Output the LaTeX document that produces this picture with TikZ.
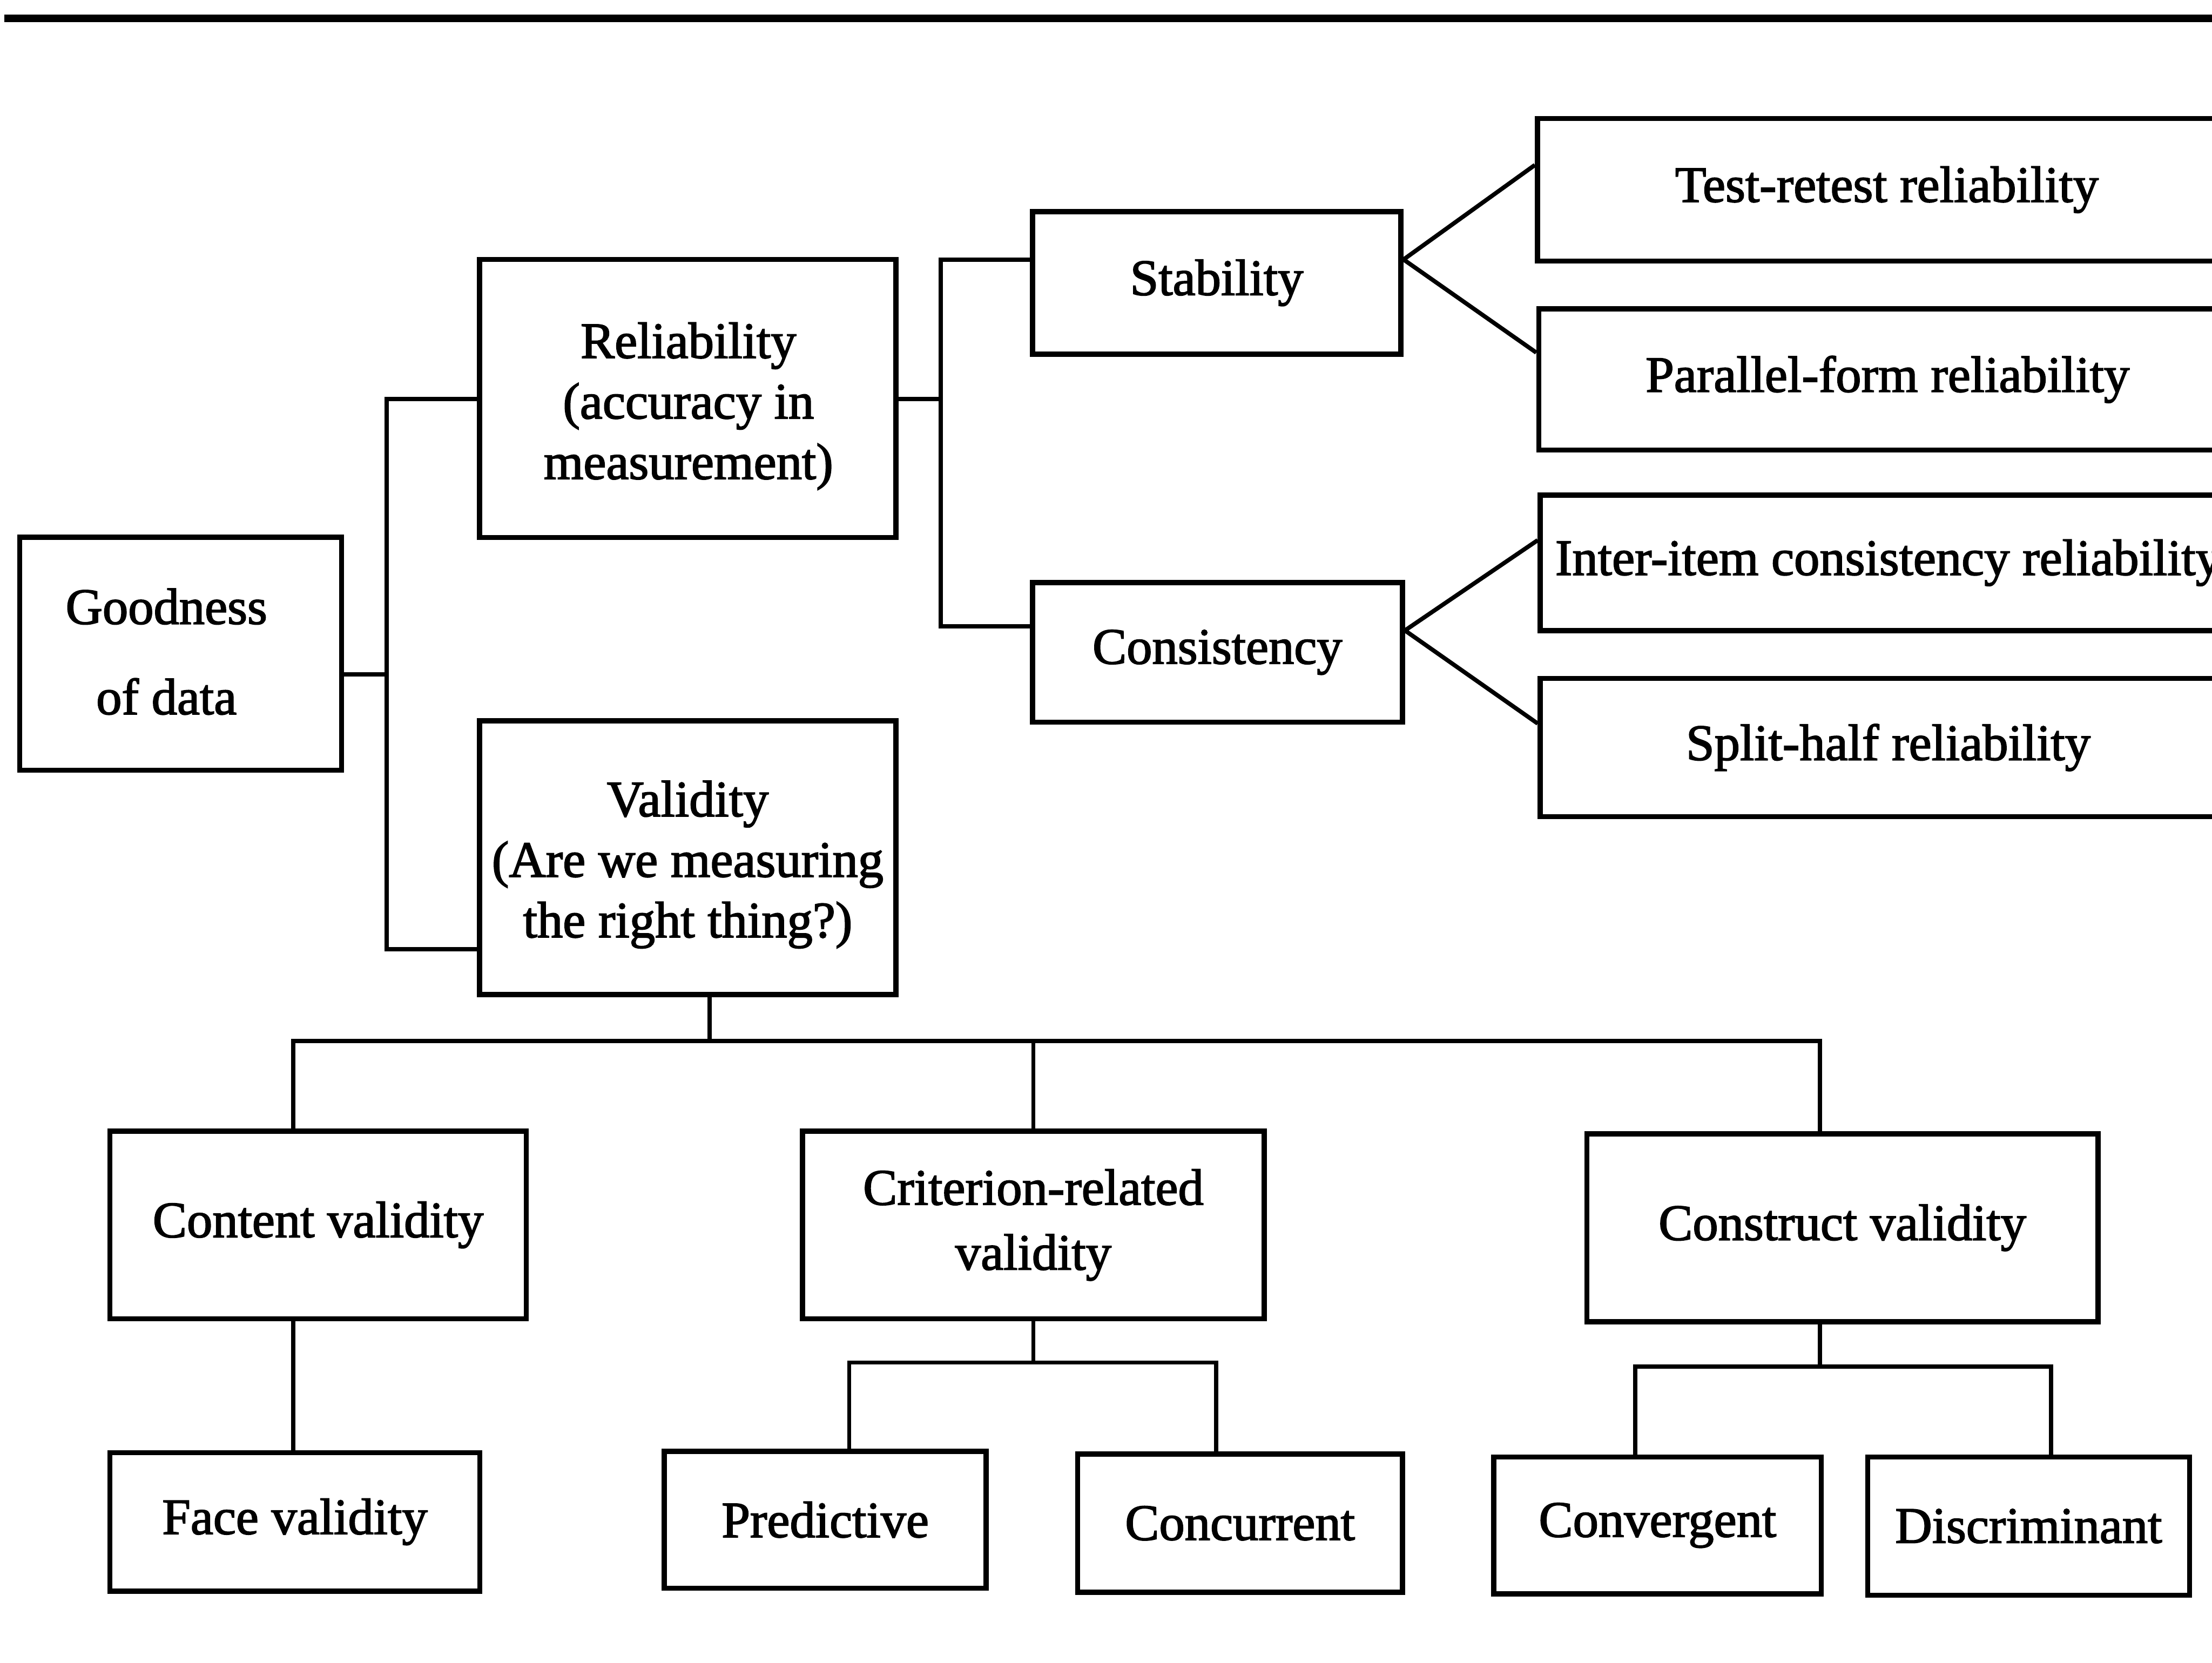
\documentclass[tikz,border=0pt]{standalone}
\usepackage{fontspec}
\setmainfont{Liberation Serif}[FakeBold=2]
\begin{document}
\begin{tikzpicture}[x=0.01cm,y=-0.01cm,
  box/.style={draw, line width=1.05pt, inner sep=0pt, align=center,
    font=\fontsize{10.3}{12.2}\selectfont},
  lbl/.style={inner sep=0pt, align=center, font=\fontsize{10.3}{12.2}\selectfont},
  conn/.style={line width=0.85pt, line join=miter},
  rule/.style={line width=1.6pt}]
\useasboundingbox (0,0) rectangle (1568,1179);
\clip (0,0) rectangle (1568,1179);

% heading rule
\coordinate (ruleL) at (3,13);
\coordinate (ruleR) at (1570,13);
\draw[rule] (ruleL) -- (ruleR);

% root and first level
\node[box, minimum width=2.28cm, minimum height=1.65cm] (good) at (128,463.5) {};
\node[lbl] (goodtxt) at (118,462) {Goodness\\[6pt]of data};
\node[box, minimum width=2.95cm, minimum height=1.97cm] (rel) at (487.5,282.5) {};
\node[lbl] (reltxt) at (488,288) {Reliability\\(accuracy in\\measurement)};
\node[box, minimum width=2.95cm, minimum height=1.94cm] (val) at (487.5,608) {};
\node[lbl] (valtxt) at (487.5,613) {Validity\\(Are we measuring\\the right thing?)};

% reliability branch
\node[box, minimum width=2.61cm, minimum height=1.01cm] (stab) at (862.5,200.5) {Stability};
\node[box, minimum width=2.62cm, minimum height=0.99cm] (cons) at (863,462.5) {Consistency};
\node[box, minimum width=4.95cm, minimum height=1.01cm] (test) at (1337.5,134.5) {Test-retest reliability};
\node[box, minimum width=4.94cm, minimum height=1.00cm] (para) at (1338,269) {Parallel-form reliability};
\node[box, minimum width=4.93cm, minimum height=0.96cm] (inter) at (1338.5,399) {Inter-item consistency reliability};
\node[box, minimum width=4.93cm, minimum height=0.98cm] (split) at (1338.5,530) {Split-half reliability};

% validity branch
\node[box, minimum width=2.95cm, minimum height=1.33cm] (content) at (225.5,868.5) {Content validity};
\node[box, minimum width=3.27cm, minimum height=1.33cm] (crit) at (732.5,868.5) {Criterion-related\\[0.9pt]validity};
\node[box, minimum width=3.62cm, minimum height=1.33cm] (constr) at (1306,870.5) {Construct validity};
\node[box, minimum width=2.62cm, minimum height=0.98cm] (face) at (209,1079) {Face validity};
\node[box, minimum width=2.28cm, minimum height=0.97cm] (pred) at (585,1077.5) {Predictive};
\node[box, minimum width=2.30cm, minimum height=0.98cm] (conc) at (879,1080) {Concurrent};
\node[box, minimum width=2.32cm, minimum height=0.97cm] (conv) at (1175,1081.5) {Convergent};
\node[box, minimum width=2.28cm, minimum height=0.98cm] (disc) at (1438,1082) {Discriminant};

% junction points of the connectors
\coordinate (gBus) at (274,478);
\coordinate (relY) at (0,283);
\coordinate (valY) at (0,673);
\coordinate (rBus) at (667,283);
\coordinate (stabY) at (0,184);
\coordinate (consY) at (0,444);
\coordinate (stabTip) at (0,184);
\coordinate (consTip) at (0,447);
\coordinate (testY) at (0,117);
\coordinate (paraY) at (0,250);
\coordinate (interY) at (0,383);
\coordinate (splitY) at (0,513);
\coordinate (vBus) at (503,738);
\coordinate (contX) at (208,738);
\coordinate (consX) at (1290,738);
\coordinate (pJ) at (602,966);
\coordinate (cJ) at (862,966);
\coordinate (kJ) at (1290,969);
\coordinate (vJ) at (1159,969);
\coordinate (dJ) at (1454,969);

% root to reliability / validity
\draw[conn] (good.east |- gBus) -- (gBus);
\draw[conn] (rel.west |- relY) -| (gBus) |- (val.west |- valY);

% reliability to stability / consistency
\draw[conn] (rel.east |- rBus) -- (rBus);
\draw[conn] (stab.west |- stabY) -| (rBus) |- (cons.west |- consY);

% fans to the reliability types
\draw[conn] (test.west |- testY) -- (stab.east |- stabTip) -- (para.west |- paraY);
\draw[conn] (inter.west |- interY) -- (cons.east |- consTip) -- (split.west |- splitY);

% validity to its three kinds
\draw[conn] (val.south -| vBus) -- (vBus);
\draw[conn] (content.north -| contX) |- (consX) -- (constr.north -| consX);
\draw[conn] (crit.north) -- (crit.north |- vBus);

% second level of validity
\draw[conn] (content.south -| contX) -- (face.north -| contX);
\draw[conn] (crit.south) -- (crit.south |- pJ);
\draw[conn] (pred.north -| pJ) -- (pJ) -- (cJ) -- (conc.north -| cJ);
\draw[conn] (constr.south -| kJ) -- (kJ);
\draw[conn] (conv.north -| vJ) -- (vJ) -- (dJ) -- (disc.north -| dJ);
\end{tikzpicture}
\end{document}
